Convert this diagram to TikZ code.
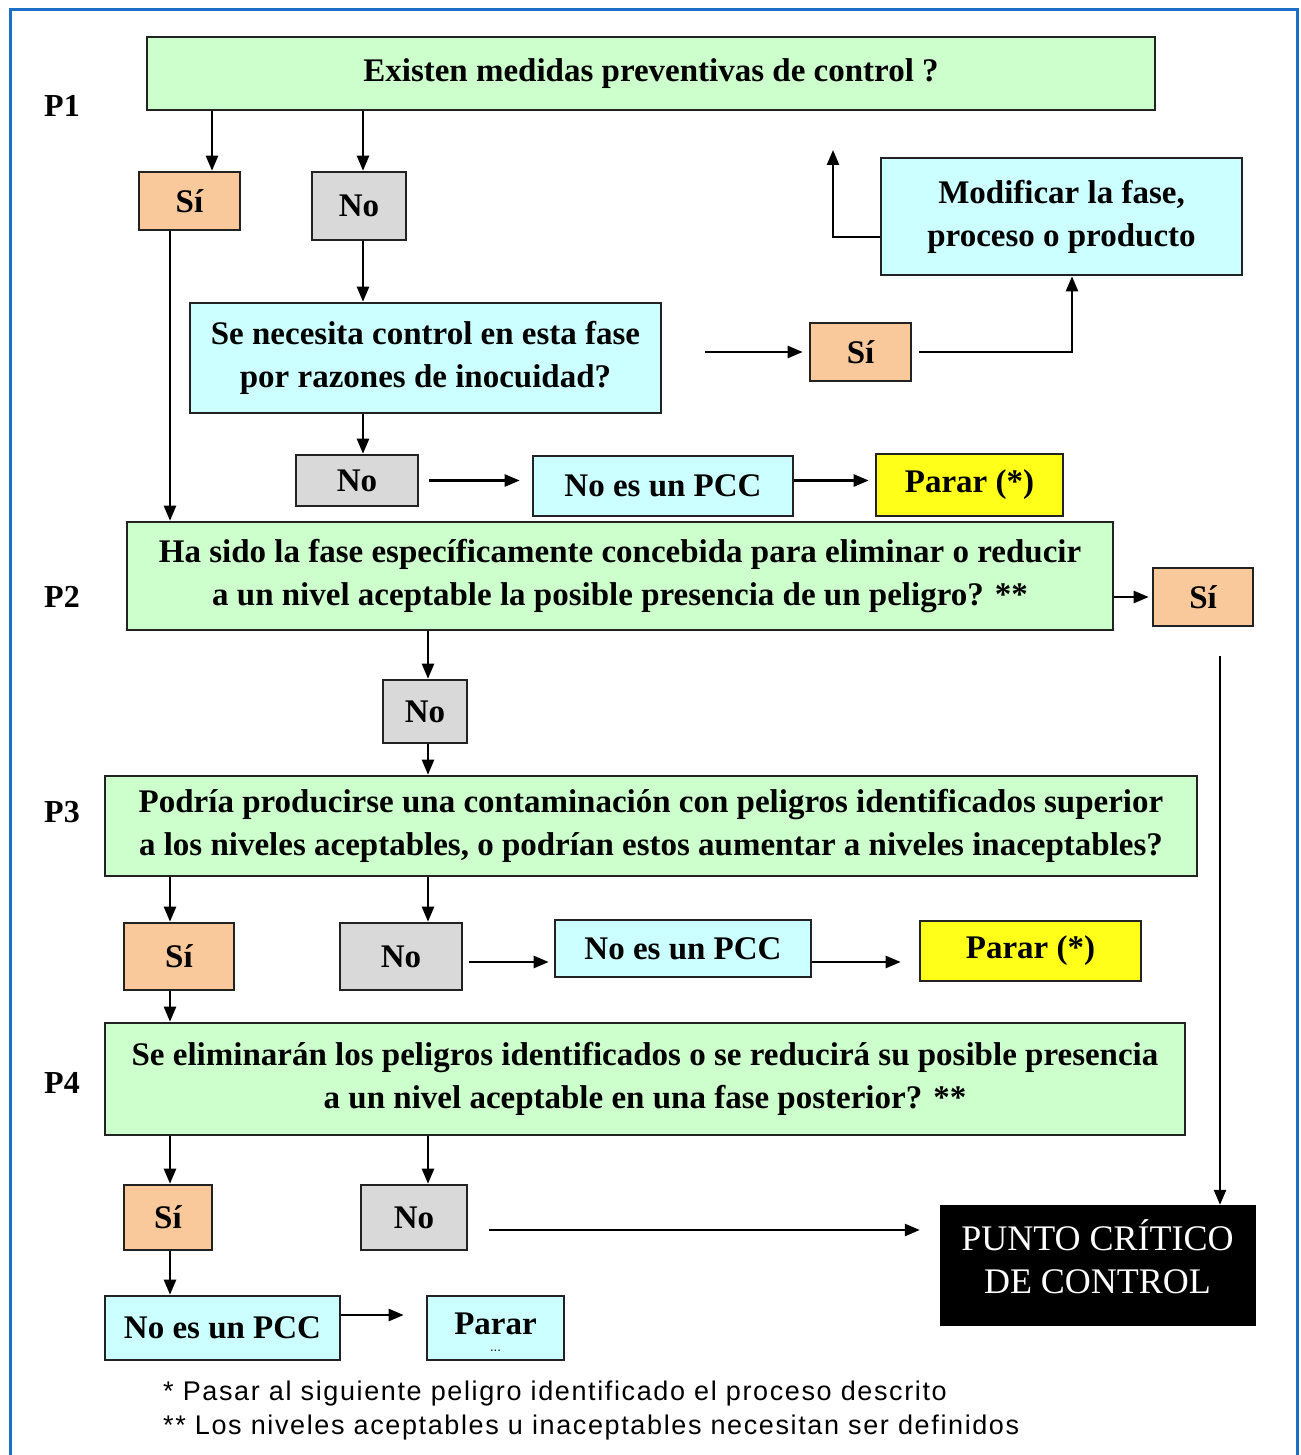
\documentclass[tikz,border=0pt]{standalone}
\usepackage{fontspec}
\setmainfont{Liberation Serif}
\setsansfont{Liberation Sans}
\newfontfamily\notefont[LetterSpace=6]{Liberation Sans}
\usetikzlibrary{arrows.meta,calc}
\definecolor{bordblue}{HTML}{1C6FC6}
\definecolor{qgreen}{HTML}{CCFFCC}
\definecolor{qcyan}{HTML}{CCFFFF}
\definecolor{siorange}{HTML}{F9C99C}
\definecolor{nogray}{HTML}{D9D9D9}
\definecolor{stopyellow}{HTML}{FFFF1A}
\definecolor{edge}{HTML}{222222}
\tikzset{
  box/.style={draw=edge, line width=2.6pt, inner sep=0pt, align=center,
    font=\fontsize{33}{43}\selectfont\bfseries},
  qbox/.style={box, fill=qgreen},
  cbox/.style={box, fill=qcyan},
  sibox/.style={box, fill=siorange},
  nobox/.style={box, fill=nogray},
  ybox/.style={box, fill=stopyellow},
  pccbox/.style={draw=black, fill=black, inner sep=0pt},
  plabel/.style={font=\fontsize{32}{32}\selectfont\bfseries, inner sep=0pt},
  note/.style={font=\notefont\fontsize{27}{34}\selectfont, inner sep=0pt, anchor=west},
  arr/.style={line width=2.4pt, draw=black, -{Triangle[length=15pt,width=12pt]}},
}
\begin{document}
\begin{tikzpicture}[x=1pt,y=-1pt]
\useasboundingbox (0,0) rectangle (1300,1455);
\fill[white] (0,0) rectangle (1300,1455);
\draw[bordblue, line width=3pt] (10,1455) -- (10,10) -- (1297,10) -- (1297,1455);

% column helpers
\coordinate (xA) at (170,0);
\coordinate (xB) at (212,0);
\coordinate (xC) at (363,0);
\coordinate (xD) at (428,0);
\coordinate (xE) at (1220,0);
\coordinate (xF) at (1072,0);
\coordinate (xG) at (833,0);

% labels
\node[plabel] (l1) at (62,106) {P1};
\node[plabel] (l2) at (62,597) {P2};
\node[plabel] (l3) at (62,812) {P3};
\node[plabel] (l4) at (62,1083) {P4};

% boxes
\node[qbox, minimum width=1008, minimum height=73] (q1) at (651,73.5) {Existen medidas preventivas de control ?};
\node[sibox, minimum width=101, minimum height=58] (si1) at (189.5,201) {Sí};
\node[nobox, minimum width=94, minimum height=68] (no1) at (359,206) {No};
\node[cbox, minimum width=471, minimum height=110] (sn) at (425.5,358) {Se necesita control en esta fase\\por razones de inocuidad?};
\node[sibox, minimum width=101, minimum height=58] (si2) at (860.5,352) {Sí};
\node[cbox, minimum width=361, minimum height=117] (mod) at (1061.5,216.5) {Modificar la fase,\\proceso o producto};
\node[nobox, minimum width=122, minimum height=51] (no2) at (357,480.5) {No};
\node[cbox, minimum width=260, minimum height=60] (npcc1) at (663,486) {No es un PCC};
\node[ybox, minimum width=187, minimum height=62] (par1) at (969.5,485) {Parar (*)};
\node[qbox, minimum width=986, minimum height=108] (q2) at (620,576) {Ha sido la fase específicamente concebida para eliminar o reducir\\a un nivel aceptable la posible presencia de un peligro? **};
\node[sibox, minimum width=100, minimum height=58] (si3) at (1203,597) {Sí};
\node[nobox, minimum width=84, minimum height=63] (no3) at (425,711.5) {No};
\node[qbox, minimum width=1092, minimum height=100] (q3) at (651,826) {Podría producirse una contaminación con peligros identificados superior\\a los niveles aceptables, o podrían estos aumentar a niveles inaceptables?};
\node[sibox, minimum width=110, minimum height=67] (si4) at (179,956.5) {Sí};
\node[nobox, minimum width=122, minimum height=67] (no4) at (401,956.5) {No};
\node[cbox, minimum width=256, minimum height=57] (npcc2) at (683,948.5) {No es un PCC};
\node[ybox, minimum width=221, minimum height=60] (par2) at (1030.5,951) {Parar (*)};
\node[qbox, minimum width=1080, minimum height=112] (q4) at (645,1079) {Se eliminarán los peligros identificados o se reducirá su posible presencia\\a un nivel aceptable en una fase posterior? **};
\node[sibox, minimum width=88, minimum height=65] (si5) at (168,1217.5) {Sí};
\node[nobox, minimum width=106, minimum height=65] (no5) at (414,1217.5) {No};
\node[pccbox, minimum width=315, minimum height=120] (pcc) at (1097.5,1265) {};
\node[font=\fontsize{36}{43}\selectfont, text=white, align=center, inner sep=0pt] (pcct) at (1097.5,1257) {PUNTO CRÍTICO\\DE CONTROL};
\node[cbox, minimum width=235, minimum height=64] (npcc3) at (222.5,1328) {No es un PCC};
\node[cbox, minimum width=137, minimum height=64] (par3) at (495.5,1328) {};
\node[font=\fontsize{33}{33}\selectfont\bfseries, inner sep=0pt] (par3t) at (495.5,1324) {Parar};
\node[font=\sffamily\fontsize{13}{13}\selectfont, inner sep=0pt] (par3d) at (495.5,1351) {...};

% footnotes
\node[note] (n1) at (163,1394) {* Pasar al siguiente peligro identificado el proceso descrito};
\node[note] (n2) at (163,1428) {** Los niveles aceptables u inaceptables necesitan ser definidos};

% connectors
\draw[arr] (q1.south -| xB) -- (si1.north -| xB);
\draw[arr] (q1.south -| xC) -- (no1.north -| xC);
\draw[arr] (no1.south -| xC) -- (sn.north -| xC);
\draw[arr, shorten <=43pt, shorten >=6pt] (sn.east |- si2.west) -- (si2.west);
\draw[arr, shorten <=7pt] (si2.east) -- (si2.east -| xF) -- (mod.south -| xF);
\coordinate (back) at (833,150);
\draw[arr] (mod.west |- 0,237) -- (xG |- 0,237) -- (back);
\draw[arr] (sn.south -| xC) -- (no2.north -| xC);
\draw[arr, shorten <=10pt, shorten >=12pt] (no2.east) -- (npcc1.west |- no2.east);
\draw[arr, shorten >=6pt] (npcc1.east |- no2.east) -- (par1.west |- no2.east);
\draw[arr] (si1.south -| xA) -- (q2.north -| xA);
\draw[arr, shorten >=3pt] (q2.east |- si3.west) -- (si3.west);
\draw[arr, shorten <=29pt] (si3.south -| xE) -- (pcc.north -| xE);
\draw[arr] (q2.south -| xD) -- (no3.north -| xD);
\draw[arr] (no3.south -| xD) -- (q3.north -| xD);
\draw[arr] (q3.south -| xA) -- (si4.north -| xA);
\draw[arr] (q3.south -| xD) -- (no4.north -| xD);
\draw[arr, shorten <=6pt, shorten >=5pt] (no4.east |- 0,962) -- (npcc2.west |- 0,962);
\draw[arr, shorten >=18pt] (npcc2.east |- 0,962) -- (par2.west |- 0,962);
\draw[arr] (si4.south -| xA) -- (q4.north -| xA);
\draw[arr] (q4.south -| xA) -- (si5.north -| xA);
\draw[arr] (q4.south -| xD) -- (no5.north -| xD);
\draw[arr, shorten <=21pt, shorten >=20pt] (no5.east |- 0,1230) -- (pcc.west |- 0,1230);
\draw[arr] (si5.south -| xA) -- (npcc3.north -| xA);
\draw[arr, shorten >=22pt] (npcc3.east |- 0,1315) -- (par3.west |- 0,1315);
\end{tikzpicture}
\end{document}
